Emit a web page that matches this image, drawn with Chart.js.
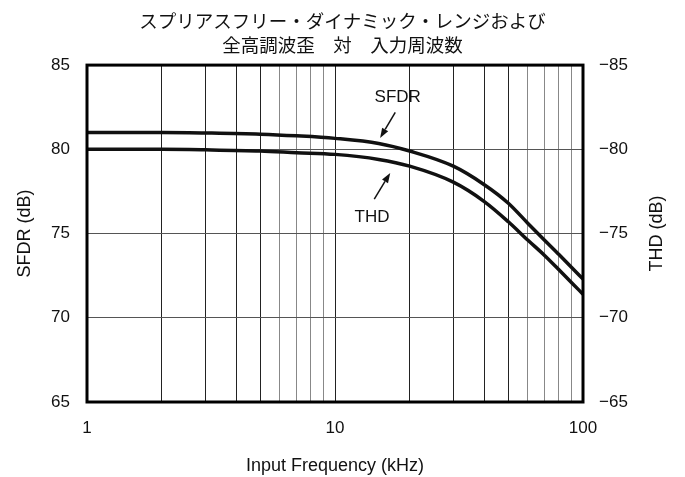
<!DOCTYPE html>
<html>
<head>
<meta charset="utf-8">
<script src="https://cdn.jsdelivr.net/npm/chart.js@4.4.1/dist/chart.umd.min.js"></script>
<style>
  html, body { margin: 0; background: #fff; }
  #wrap { width: 685px; height: 477px; }
</style>
</head>
<body>
<div id="wrap"><canvas id="c"></canvas></div>
<script>
// --- data ---
const freqs = [1, 2, 3, 5, 7, 10, 15, 20, 30, 40, 50, 60, 70, 80, 90, 100]; // kHz
const sfdr  = [81.0, 81.0, 80.97, 80.9, 80.8, 80.65, 80.35, 79.9, 79.0, 77.9, 76.8, 75.6, 74.6, 73.75, 72.98, 72.3];
const thd   = [80.0, 80.0, 79.97, 79.9, 79.8, 79.7, 79.4, 79.0, 78.05, 76.9, 75.7, 74.6, 73.7, 72.85, 72.08, 71.4];

const xTicks  = [1, 2, 3, 4, 5, 6, 7, 8, 9, 10, 20, 30, 40, 50, 60, 70, 80, 90, 100];
const xLabels = [1, 10, 100];
const grayX   = [6, 7, 8, 9, 60, 70, 80, 90]; // these grid lines look lighter

const titleLines = ["スプリアスフリー・ダイナミック・レンジおよび", "全高調波歪　対　入力周波数"];
const rightTitle = "THD (dB)";

// annotations: label position, arrow tail, arrow tip (kHz, dB)
const notes = [
  { text: "SFDR", at: [17.9, 83.1],  from: [17.5, 82.2],  to: [15.2, 80.67] },
  { text: "THD",  at: [14.1, 75.98], from: [14.4, 77.05], to: [16.7, 78.6] }
];

const FONT = "'Liberation Sans', Arial, sans-serif";
const INK = "#111";

const toXY = (ys) => freqs.map((f, i) => ({ x: f, y: ys[i] }));

// thick frame around the plot area
const framePlugin = {
  id: "frame",
  afterDatasetsDraw(chart) {
    const { ctx, chartArea: a } = chart;
    ctx.save();
    ctx.strokeStyle = "#000";
    ctx.lineWidth = 3;
    ctx.strokeRect(a.left, a.top, a.right - a.left, a.bottom - a.top);
    ctx.restore();
  }
};

// right axis title, read bottom-to-top like the left one
const rightTitlePlugin = {
  id: "rightTitle",
  afterDraw(chart) {
    const { ctx, chartArea: a } = chart;
    ctx.save();
    ctx.translate(chart.width - 28, (a.top + a.bottom) / 2);
    ctx.rotate(-Math.PI / 2);
    ctx.fillStyle = INK;
    ctx.font = "18px " + FONT;
    ctx.textAlign = "center";
    ctx.textBaseline = "middle";
    ctx.fillText(rightTitle, 0, 0);
    ctx.restore();
  }
};

// SFDR / THD labels with arrows
const notesPlugin = {
  id: "notes",
  afterDatasetsDraw(chart) {
    const { ctx } = chart;
    const xs = chart.scales.x, ys = chart.scales.y;
    const px = (p) => [xs.getPixelForValue(p[0]), ys.getPixelForValue(p[1])];
    ctx.save();
    ctx.fillStyle = INK;
    ctx.strokeStyle = INK;
    ctx.font = "17px " + FONT;
    ctx.textAlign = "center";
    ctx.textBaseline = "middle";
    notes.forEach(n => {
      const [lx, ly] = px(n.at);
      ctx.fillText(n.text, lx, ly);
      const [x0, y0] = px(n.from);
      const [x1, y1] = px(n.to);
      const ang = Math.atan2(y1 - y0, x1 - x0);
      const hl = 10, hw = 3.5;
      const bx = x1 - hl * Math.cos(ang), by = y1 - hl * Math.sin(ang);
      ctx.lineWidth = 1.5;
      ctx.beginPath();
      ctx.moveTo(x0, y0);
      ctx.lineTo(bx, by);
      ctx.stroke();
      ctx.beginPath();
      ctx.moveTo(x1, y1);
      ctx.lineTo(bx + hw * Math.sin(ang), by - hw * Math.cos(ang));
      ctx.lineTo(bx - hw * Math.sin(ang), by + hw * Math.cos(ang));
      ctx.closePath();
      ctx.fill();
    });
    ctx.restore();
  }
};

const tickFont = { family: FONT, size: 17 };
const titleFont = { family: FONT, size: 18 };

new Chart(document.getElementById("c"), {
  type: "line",
  data: {
    datasets: [
      {
        label: "SFDR",
        data: toXY(sfdr),
        borderColor: "#111",
        borderWidth: 3.5,
        pointRadius: 0,
        cubicInterpolationMode: "monotone",
        yAxisID: "y"
      },
      {
        label: "THD",
        data: toXY(thd),
        borderColor: "#111",
        borderWidth: 3.5,
        pointRadius: 0,
        cubicInterpolationMode: "monotone",
        yAxisID: "y"
      }
    ]
  },
  options: {
    responsive: true,
    maintainAspectRatio: false,
    animation: false,
    layout: { padding: 0 },
    plugins: {
      legend: { display: false },
      tooltip: { enabled: false },
      title: {
        display: true,
        text: titleLines,
        color: INK,
        font: { family: "'Noto Sans CJK JP', sans-serif", size: 18.5, weight: "normal", lineHeight: 1.3 },
        padding: { top: 9, bottom: 8 }
      }
    },
    scales: {
      x: {
        type: "logarithmic",
        min: 1,
        max: 100,
        afterBuildTicks: (s) => { s.ticks = xTicks.map(v => ({ value: v })); },
        afterFit: (s) => { s.height = 75; },
        ticks: {
          autoSkip: false,
          maxRotation: 0,
          padding: 16,
          color: INK,
          font: tickFont,
          callback: (v) => xLabels.includes(v) ? String(v) : ""
        },
        grid: {
          drawTicks: false,
          lineWidth: 1,
          color: (c) => grayX.includes(c.tick && c.tick.value) ? "#888" : "#222"
        },
        border: { display: false },
        title: { display: true, text: "Input Frequency (kHz)", color: INK, font: titleFont, padding: { top: 0, bottom: 0 } }
      },
      y: {
        position: "left",
        min: 65,
        max: 85,
        afterFit: (s) => { s.width = 87; },
        ticks: { stepSize: 5, padding: 17, color: INK, font: tickFont },
        grid: { drawTicks: false, color: "#555", lineWidth: 1 },
        border: { display: false },
        title: { display: true, text: "SFDR (dB)", color: INK, font: titleFont, padding: { top: 14, bottom: 0 } }
      },
      y2: {
        position: "right",
        min: -85,
        max: -65,
        reverse: true,
        afterFit: (s) => { s.width = 102; },
        ticks: {
          stepSize: 5,
          padding: 16,
          color: INK,
          font: tickFont,
          callback: (v) => String(v).replace("-", "\u2212")
        },
        grid: { drawOnChartArea: false, drawTicks: false },
        border: { display: false }
      }
    }
  },
  plugins: [framePlugin, notesPlugin, rightTitlePlugin]
});
</script>
</body>
</html>
